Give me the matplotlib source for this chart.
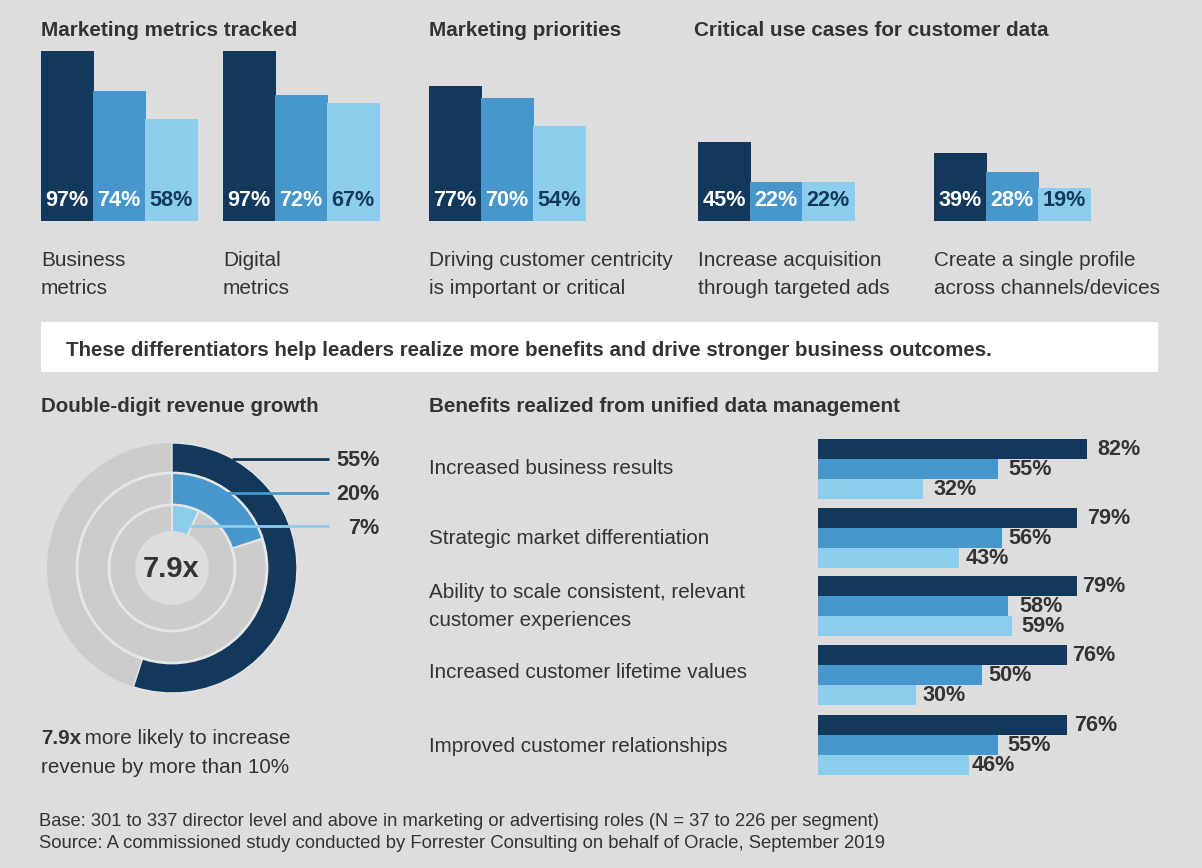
import matplotlib
matplotlib.use("Agg")
import matplotlib.pyplot as plt
from matplotlib.patches import Wedge, Rectangle

plt.rcParams['font.family'] = ['Liberation Sans', 'DejaVu Sans']

W, H = 1202, 868
NAVY, MID, LIGHT = '#12395b', '#4797cc', '#8ccdee'
BG = '#dddddd'
GREY = '#cccccc'
RING_EDGE = '#e6e6e6'
TXT = '#333333'
colors = [NAVY, MID, LIGHT]

# top panels
top_labels = ['Business\nmetrics', 'Digital\nmetrics',
              'Driving customer centricity\nis important or critical',
              'Increase acquisition\nthrough targeted ads',
              'Create a single profile\nacross channels/devices']
top_values = [[97, 74, 58], [97, 72, 67], [77, 70, 54], [45, 22, 22], [39, 28, 19]]
top_x = [41, 223, 429, 698, 934]
top_heads = ['Marketing metrics tracked', 'Marketing priorities', 'Critical use cases for customer data']
top_head_x = [41, 429, 694]

# bottom right bars
benefit_labels = ['Increased business results', 'Strategic market differentiation',
                  'Ability to scale consistent, relevant\ncustomer experiences',
                  'Increased customer lifetime values', 'Improved customer relationships']
benefit_values = [[82, 55, 32], [79, 56, 43], [79, 58, 59], [76, 50, 30], [76, 55, 46]]
benefit_y = [439, 508, 576, 645, 715]
label_y = [469, 538, 607, 673, 746]
# gap between bar end and its label, pixels
label_gap = [[10, 10, 11], [10, 7, 7], [5, 11, 10], [5, 6, 6], [7, 9, 3]]

# donut
ring_values = [55, 20, 7]
ring_labels = ['55%', '20%', '7%']

fig = plt.figure(figsize=(W / 100, H / 100), dpi=100, facecolor=BG)
ax = fig.add_axes([0, 0, 1, 1])
ax.set_xlim(0, W)
ax.set_ylim(H, 0)
ax.axis('off')


def txt(x, y, s, size=15, bold=False, color=TXT, ha='left', va='center', **kw):
    ax.text(x, y, s, fontsize=size, fontweight='bold' if bold else 'normal',
            color=color, ha=ha, va=va, **kw)


for x, s in zip(top_head_x, top_heads):
    txt(x, 30.5, s, size=14.9, bold=True)

# column groups
base = 221
for x0, vals, lab in zip(top_x, top_values, top_labels):
    for i, v in enumerate(vals):
        h = v * 1.755
        x = x0 + i * 52
        ax.bar(x, h, width=53, bottom=base - h, align='edge', color=colors[i], linewidth=0)
        txt(x + 26, 201, f'{v}%', size=15.6, bold=True, ha='center',
            color=NAVY if i == 2 else 'white')
    txt(x0, 275, lab, size=14.95, linespacing=1.6)

# white banner
ax.add_patch(Rectangle((41, 322), 1117, 50, color='white', lw=0))
txt(66, 350, 'These differentiators help leaders realize more benefits and drive stronger business outcomes.',
    size=14.72, bold=True)

txt(41, 406, 'Double-digit revenue growth', size=14.75, bold=True)
txt(429, 406, 'Benefits realized from unified data management', size=14.85, bold=True)

# donut: y axis points down, so wedge angles run clockwise from -90 (top)
cx, cy = 172, 568
ax.add_patch(Wedge((cx, cy), 125, 0, 360, fc=GREY, lw=0, zorder=1))
ax.add_patch(Wedge((cx, cy), 125, -90, -90 + ring_values[0] * 3.6, fc=NAVY, ec=RING_EDGE, lw=1, zorder=2))
ax.add_patch(Wedge((cx, cy), 95, 0, 360, fc=GREY, ec=RING_EDGE, lw=2, zorder=3))
ax.add_patch(Wedge((cx, cy), 95, -90, -90 + ring_values[1] * 3.6, fc=MID, ec=RING_EDGE, lw=1.5, zorder=4))
ax.add_patch(Wedge((cx, cy), 63, 0, 360, fc=GREY, ec=RING_EDGE, lw=2, zorder=5))
ax.add_patch(Wedge((cx, cy), 63, -90, -90 + ring_values[2] * 3.6, fc=LIGHT, ec=RING_EDGE, lw=1.5, zorder=6))
ax.add_patch(Wedge((cx, cy), 37, 0, 360, fc=BG, lw=0, zorder=7))
txt(cx - 1, 569, '7.9x', size=21, bold=True, ha='center', zorder=8)

for (y, x_start, color, lab) in zip([458.5, 492.5, 526], [232, 226, 190], colors, ring_labels):
    ax.plot([x_start, 329], [y, y], color=color, lw=2, zorder=9, solid_capstyle='butt')
    txt(379.5, y + 2, lab, size=15.6, bold=True, ha='right')

txt(41, 739, '7.9x', size=14.9, bold=True)
txt(79, 739, ' more likely to increase', size=14.9)
txt(41, 767.5, 'revenue by more than 10%', size=14.9)

# horizontal bars
bx = 818
for yy, ly, vals, gaps, lab in zip(benefit_y, label_y, benefit_values, label_gap, benefit_labels):
    for i, v in enumerate(vals):
        w = v * 3.28
        y = yy + i * 20
        ax.barh(y, w, height=20, left=bx, align='edge', color=colors[i], linewidth=0)
        txt(bx + w + gaps[i], y + 10.5, f'{v}%', size=15.6, bold=True)
    txt(429, ly, lab, size=14.85, linespacing=1.6)

txt(39, 821.5, 'Base: 301 to 337 director level and above in marketing or advertising roles (N = 37 to 226 per segment)',
    size=13.2)
txt(39, 843.5, 'Source: A commissioned study conducted by Forrester Consulting on behalf of Oracle, September 2019',
    size=13.3)

fig.savefig('out.png', dpi=100, facecolor=BG)
